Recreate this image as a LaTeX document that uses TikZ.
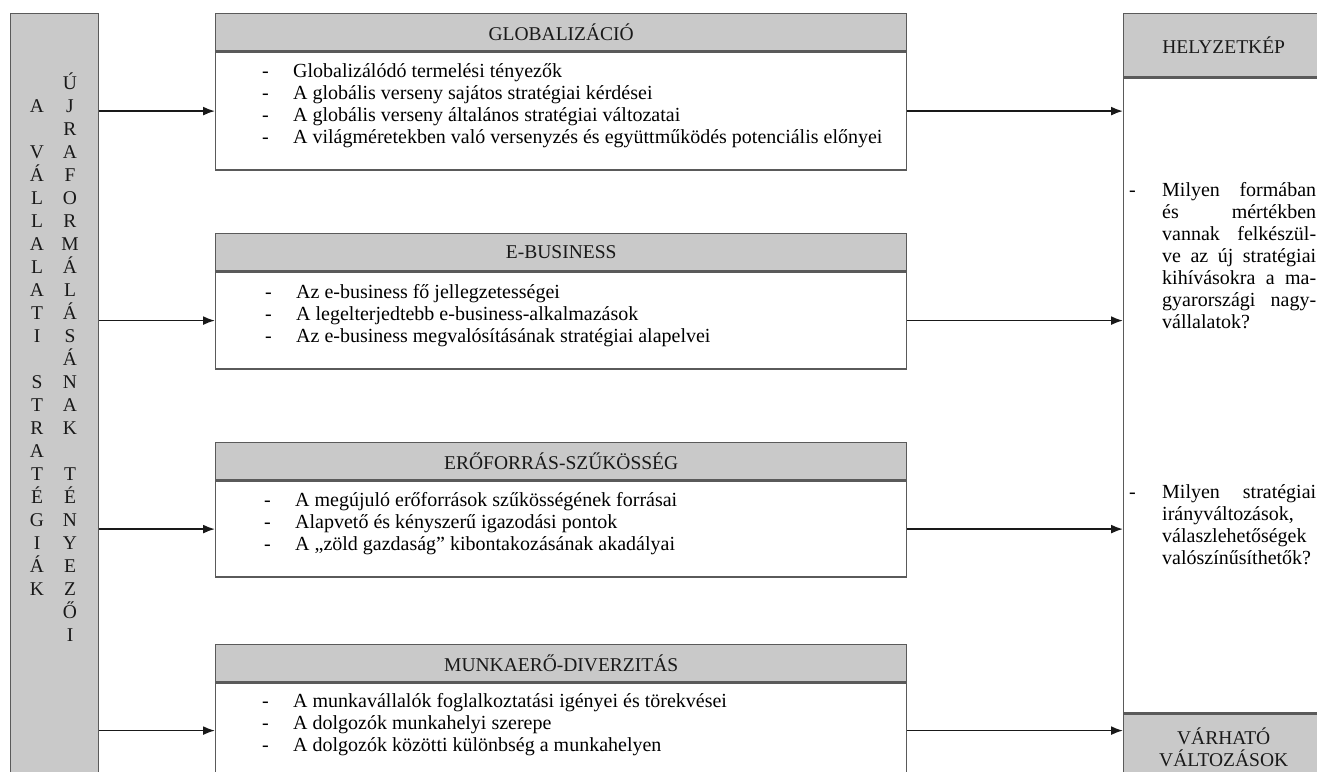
\documentclass[tikz,border=0pt]{standalone}
\usepackage{fontspec}
\setmainfont{Liberation Serif}
\usetikzlibrary{arrows.meta}

\definecolor{boxgray}{RGB}{201,201,201}
\definecolor{edgegray}{RGB}{90,90,90}

\begin{document}
\begin{tikzpicture}[x=1pt,y=-1pt,
  hdr/.style={draw=edgegray,fill=boxgray,line width=1.4pt,minimum width=691pt,minimum height=37pt,
    anchor=north west,inner sep=0pt,text=black!90,font=\fontsize{19.5}{22}\selectfont},
  bdy/.style={draw=edgegray,fill=white,line width=1.4pt,minimum width=691pt,anchor=north west,inner sep=0pt},
  itm/.style={anchor=base west,inner sep=0pt,text=black,font=\fontsize{20}{22}\selectfont},
  letter/.style={anchor=base,inner sep=0pt,text=black!90,font=\fontsize{19.5}{23}\selectfont},
  arr/.style={-{Latex[length=12pt,width=9pt]},line width=1.7pt,draw=black!90}]
  \useasboundingbox (0,0) rectangle (1317,771);
  \clip (0,0) rectangle (1317,771);

  % left column
  \node[draw=edgegray,fill=boxgray,line width=1.4pt,minimum width=88pt,minimum height=800pt,
    anchor=north west,inner sep=0pt] (strat) at (10,13) {};
  \foreach \c [count=\i from 1] in {A} \node[letter] (va\i) at (37,{89+23*\i}) {\c};
  \foreach \c [count=\i from 3] in {V,Á,L,L,A,L,A,T,I} \node[letter] (vb\i) at (37,{89+23*\i}) {\c};
  \foreach \c [count=\i from 13] in {S,T,R,A,T,É,G,I,Á,K} \node[letter] (vc\i) at (37,{89+23*\i}) {\c};
  \foreach \c [count=\i from 0] in {Ú,J,R,A,F,O,R,M,Á,L,Á,S,Á,N,A,K} \node[letter] (ua\i) at (70,{89+23*\i}) {\c};
  \foreach \c [count=\i from 17] in {T,É,N,Y,E,Z,Ő,I} \node[letter] (ub\i) at (70,{89+23*\i}) {\c};

  % factor boxes
  \node[hdr] (glob) at (215,13) {GLOBALIZÁCIÓ};
  \node[bdy,minimum height=118pt] (globlist) at (glob.south west) {};
  \node[itm] (globitems) at ([xshift=47pt,yshift=-26pt]globlist.north west) {\begin{tabular}[t]{@{}p{31pt}@{}l@{}}
    -&Globalizálódó termelési tényezők\\
    -&A globális verseny sajátos stratégiai kérdései\\
    -&A globális verseny általános stratégiai változatai\\
    -&A világméretekben való versenyzés és együttműködés potenciális előnyei
  \end{tabular}};

  \node[hdr] (ebiz) at (215,233) {E-BUSINESS};
  \node[bdy,minimum height=97pt] (ebizlist) at (ebiz.south west) {};
  \node[itm] (ebizitems) at ([xshift=50pt,yshift=-27pt]ebizlist.north west) {\begin{tabular}[t]{@{}p{31pt}@{}l@{}}
    -&Az e-business fő jellegzetességei\\
    -&A legelterjedtebb e-business-alkalmazások\\
    -&Az e-business megvalósításának stratégiai alapelvei
  \end{tabular}};

  \node[hdr] (erof) at (215,442) {ERŐFORRÁS-SZŰKÖSSÉG};
  \node[bdy,minimum height=96pt] (ereflist) at (erof.south west) {};
  \node[itm] (erofitems) at ([xshift=49pt,yshift=-26pt]ereflist.north west) {\begin{tabular}[t]{@{}p{31pt}@{}l@{}}
    -&A megújuló erőforrások szűkösségének forrásai\\
    -&Alapvető és kényszerű igazodási pontok\\
    -&A „zöld gazdaság” kibontakozásának akadályai
  \end{tabular}};

  \node[hdr] (munka) at (215,644) {MUNKAERŐ-DIVERZITÁS};
  \node[bdy,minimum height=95pt] (munkalist) at (munka.south west) {};
  \node[itm] (munkaitems) at ([xshift=47pt,yshift=-25pt]munkalist.north west) {\begin{tabular}[t]{@{}p{31pt}@{}l@{}}
    -&A munkavállalók foglalkoztatási igényei és törekvései\\
    -&A dolgozók munkahelyi szerepe\\
    -&A dolgozók közötti különbség a munkahelyen
  \end{tabular}};

  % right column
  \node[hdr,minimum width=200pt,minimum height=63pt] (helyzet) at (1123,13) {HELYZETKÉP};
  \node[bdy,minimum width=200pt,minimum height=635pt] (kep) at (helyzet.south west) {};
  \node[hdr,minimum width=200pt,minimum height=66pt,align=center] (varhato) at (kep.south west) {VÁRHATÓ\\VÁLTOZÁSOK};
  \node[itm] (kerdes1) at (1129,196) {\begin{tabular}[t]{@{}p{33pt}@{}p{154pt}@{}}
    -&\hyphenpenalty=10000 Milyen formában\linebreak és mértékben\linebreak vannak felkészül-\linebreak ve az új stratégiai\linebreak kihívásokra a ma-\linebreak gyarországi nagy-\linebreak vállalatok?
  \end{tabular}};
  \node[itm] (kerdes2) at (1129,498) {\begin{tabular}[t]{@{}p{33pt}@{}p{154pt}@{}}
    -&\hyphenpenalty=10000 Milyen stratégiai\linebreak irányváltozások,\newline válaszlehetőségek\linebreak valószínűsíthetők?
  \end{tabular}};

  % arrows
  \draw[arr] (strat.east |- globlist.west) -- (globlist.west);
  \draw[arr] (strat.east |- ebizlist.west) -- (ebizlist.west);
  \draw[arr] (strat.east |- ereflist.west) -- (ereflist.west);
  \draw[arr] (strat.east |- munkalist.west) -- (munkalist.west);
  \draw[arr] (globlist.east) -- (globlist.east -| kep.west);
  \draw[arr] (ebizlist.east) -- (ebizlist.east -| kep.west);
  \draw[arr] (ereflist.east) -- (ereflist.east -| kep.west);
  \draw[arr] (munkalist.east) -- (munkalist.east -| kep.west);
\end{tikzpicture}
\end{document}
